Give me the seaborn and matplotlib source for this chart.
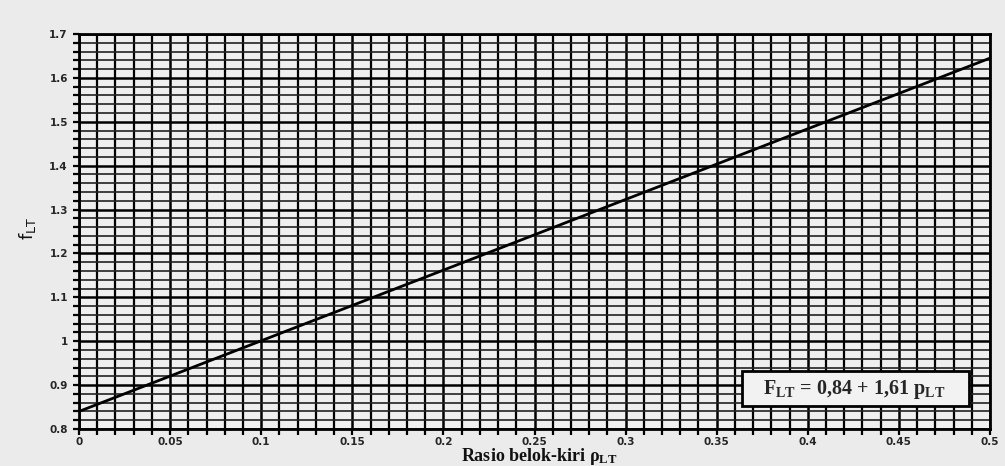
import numpy as np
import pandas as pd
import matplotlib
matplotlib.use("Agg")
import matplotlib.pyplot as plt
from matplotlib.patches import Rectangle
import seaborn as sns

# Data
p_lt = [0.0, 0.5]
f_lt = [0.84, 1.645]
x_major = [0, 0.05, 0.1, 0.15, 0.2, 0.25, 0.3, 0.35, 0.4, 0.45, 0.5]
x_labels = ["0", "0.05", "0.1", "0.15", "0.2", "0.25", "0.3", "0.35", "0.4", "0.45", "0.5"]
y_major = [0.8, 0.9, 1.0, 1.1, 1.2, 1.3, 1.4, 1.5, 1.6, 1.7]
y_labels = ["0.8", "0.9", "1", "1.1", "1.2", "1.3", "1.4", "1.5", "1.6", "1.7"]

sns.set_style("white")
plt.rcParams['font.family'] = ['DejaVu Sans']

bg = '#ebebeb'
fig = plt.figure(figsize=(10.05, 4.66), dpi=100, facecolor=bg)
ax = fig.add_axes([79/1005, 1-429/466, (990-79)/1005, (429-34)/466])
ax.set_facecolor('#efefef')

df = pd.DataFrame({"p": p_lt, "f": f_lt})
sns.lineplot(data=df, x="p", y="f", ax=ax, color='black', lw=2.0, zorder=5)

ax.set_xlim(0, 0.5)
ax.set_ylim(0.8, 1.7)
ax.set_xticks(x_major)
ax.set_xticklabels(x_labels)
ax.set_yticks(y_major)
ax.set_yticklabels(y_labels)
ax.set_xticks(np.round(np.arange(0, 0.5001, 0.01), 3), minor=True)
ax.set_yticks(np.round(np.arange(0.8, 1.7001, 0.02), 3), minor=True)
ax.grid(which='major', color='black', lw=1.8)
ax.grid(which='minor', axis='x', color='black', lw=1.6)
ax.grid(which='minor', axis='y', color='#222222', lw=1.2)
ax.set_axisbelow(True)
ax.tick_params(which='both', direction='out', length=4, width=1.6, color='black',
               bottom=True, left=True)
ax.tick_params(which='major', labelsize=7.5)
ax.tick_params(axis='x', which='major', pad=2)
ax.tick_params(axis='y', which='major', pad=4)
for lab in ax.get_xticklabels() + ax.get_yticklabels():
    lab.set_fontweight('bold')
for s in ax.spines.values():
    s.set_color('black')
    s.set_linewidth(2)

ax.set_xlabel("")
ax.set_ylabel("")
fig.text(539/1005, 1-461/466, r"Rasio belok-kiri $\mathregular{\rho_{LT}}$",
         family='Liberation Serif', fontsize=13, fontweight='bold',
         ha='center', va='baseline', color='#111111')
ax.text(-0.056, 0.509, r"f$\mathregular{_{LT}}$", transform=ax.transAxes,
        rotation=90, ha='center', va='center', fontsize=13, color='#111111')

ax.add_patch(Rectangle((0.728, 0.058), 0.249, 0.089, transform=ax.transAxes,
                       facecolor='#f2f2f2', edgecolor='black', lw=2, zorder=9))
ax.text(0.851, 0.101, r"F$\mathregular{_{LT}}$ = 0,84 + 1,61 p$\mathregular{_{LT}}$",
        transform=ax.transAxes, ha='center', va='center', fontsize=14.5,
        family='Liberation Serif', fontweight='bold', zorder=10)

fig.savefig("out.png", dpi=100, facecolor=bg)
